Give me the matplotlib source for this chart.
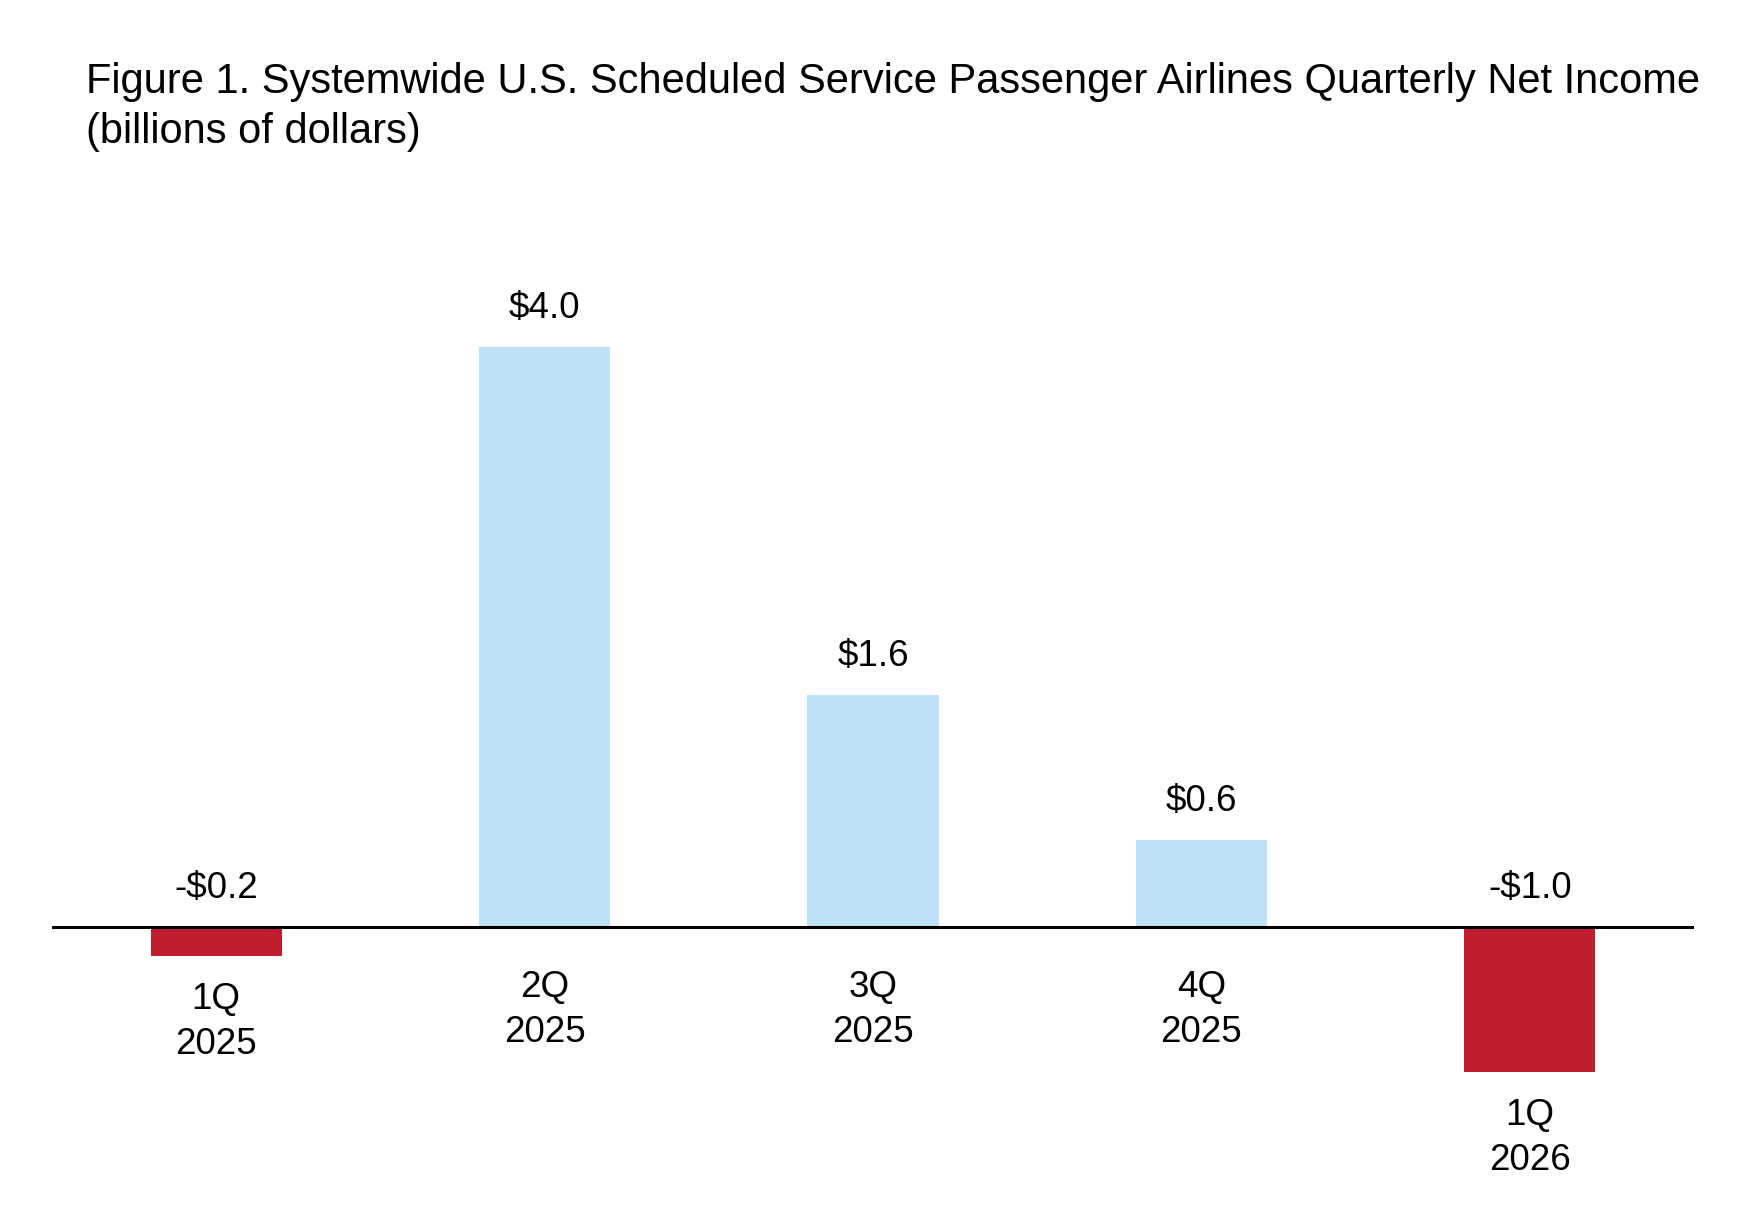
import matplotlib
matplotlib.use("Agg")
import matplotlib.pyplot as plt

# data
quarters = ["1Q\n2025", "2Q\n2025", "3Q\n2025", "4Q\n2025", "1Q\n2026"]
net_income = [-0.2, 4.0, 1.6, 0.6, -1.0]
value_labels = ["-$0.2", "$4.0", "$1.6", "$0.6", "-$1.0"]
title_lines = ["Figure 1. Systemwide U.S. Scheduled Service Passenger Airlines Quarterly Net Income",
               "(billions of dollars)"]

plt.rcParams["font.family"] = ["Liberation Sans", "DejaVu Sans"]

W, H = 1745, 1217
fig = plt.figure(figsize=(W / 100, H / 100), dpi=100)
ax = fig.add_axes([52 / W, 1 - 1100 / H, 1642 / W, 900 / H])

colors = ["#BE1E2D" if v < 0 else "#BDE1F5" for v in net_income]
xpos = range(len(quarters))
ax.bar(xpos, net_income, width=0.4, color=colors, zorder=2)
ax.axhline(0, color="black", linewidth=2.2, zorder=3)

ax.set_xlim(-0.5, 4.5)
ax.set_ylim(-1.193, 5.014)
ax.axis("off")

fs = 26.5
for x, v, lab, q in zip(xpos, net_income, value_labels, quarters):
    top = max(v, 0)
    ax.annotate(lab, (x, top), xytext=(0, 27.5), textcoords="offset points",
                ha="center", va="center", fontsize=fs)
    if v < 0:
        ax.annotate(q, (x, v), xytext=(0, -19), textcoords="offset points",
                    ha="center", va="top", fontsize=fs, linespacing=1.36)
    else:
        ax.annotate(q, (x, 0), xytext=(0, -31), textcoords="offset points",
                    ha="center", va="top", fontsize=fs, linespacing=1.36)

# two title lines placed separately by baseline
fig.text(86 / W, 1 - 93.5 / H, title_lines[0], ha="left", va="baseline", fontsize=30)
fig.text(86 / W, 1 - 143.5 / H, title_lines[1], ha="left", va="baseline", fontsize=30)

fig.savefig("out.png", dpi=100)
